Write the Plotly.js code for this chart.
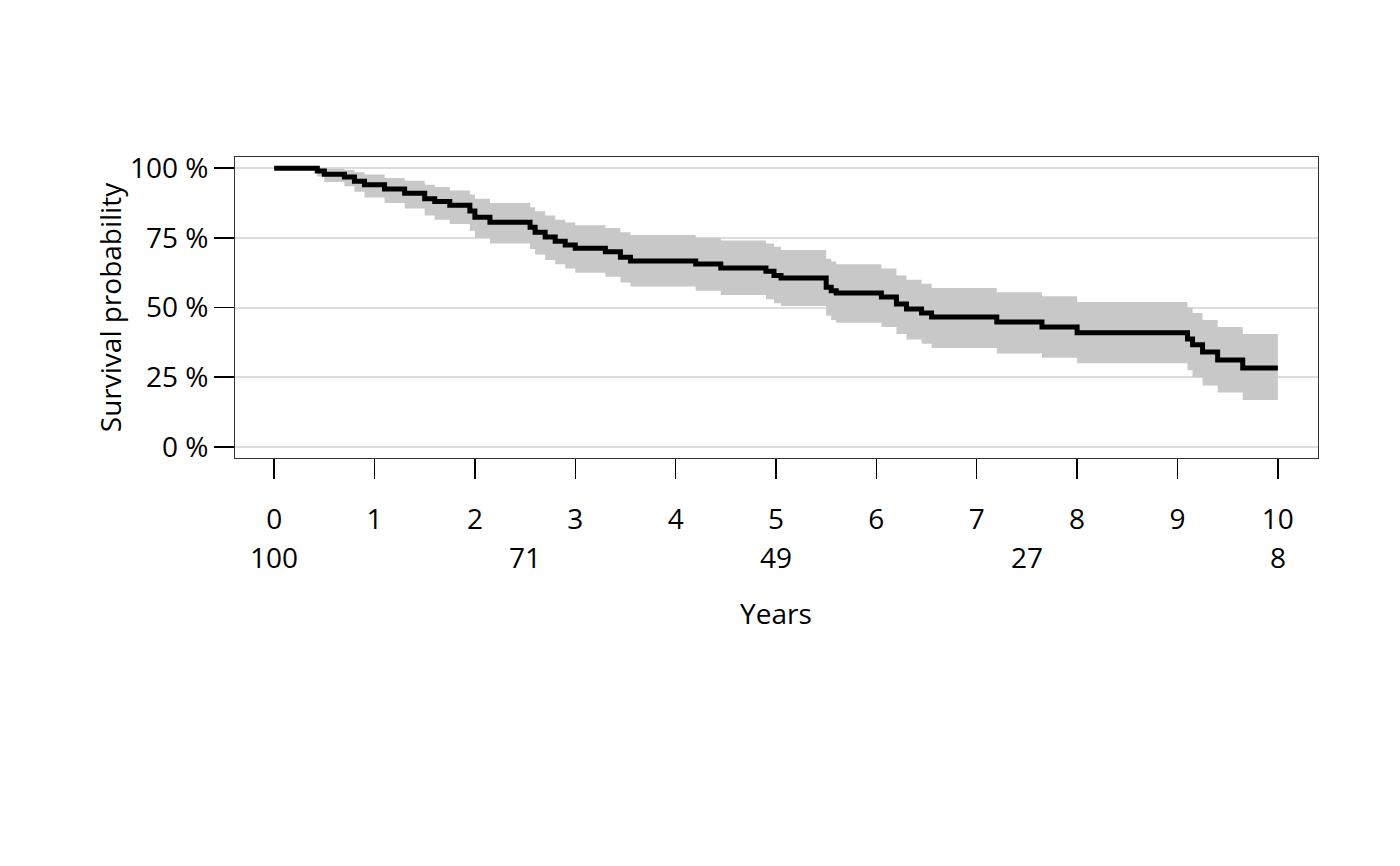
<!DOCTYPE html>
<html>
<head>
<meta charset="utf-8">
<script src="https://cdn.plot.ly/plotly-3.0.1.min.js"></script>
<style>body{margin:0;background:#fff}#plot{width:1400px;height:866px}</style>
</head>
<body>
<div id="plot"></div>
<script>
// step times (years), survival %, and confidence band
var times = [0, 0.43, 0.5, 0.7, 0.8, 0.9, 1.1, 1.3, 1.5, 1.6, 1.75, 1.95, 2.0, 2.15, 2.55, 2.6, 2.7, 2.8, 2.9, 3.0, 3.3, 3.45, 3.55, 4.2, 4.45, 4.9, 4.98, 5.05, 5.5, 5.55, 5.6, 6.05, 6.2, 6.3, 6.45, 6.55, 7.2, 7.65, 8.0, 9.1, 9.15, 9.25, 9.4, 9.65, 10];
var surv  = [100, 99, 97.8, 96.8, 95.3, 94, 92.5, 91, 89, 88, 86.7, 84.6, 82.4, 80.6, 78.8, 77, 75.3, 73.8, 72.4, 71.3, 70, 68, 66.7, 65.6, 64.2, 63, 61.5, 60.6, 57.3, 56, 55.2, 53.8, 51.3, 49.5, 48, 46.6, 44.8, 43, 40.9, 38.7, 36.6, 34, 31.2, 28.3, 28.3];
var lower = [100, 97, 95, 93.5, 91.5, 89.5, 87.5, 85.5, 83, 81.5, 80, 77.5, 75, 73, 71, 69, 67, 65.5, 64, 62.5, 61, 59, 57.5, 56, 54.5, 53, 51.5, 50.5, 47, 45.5, 44.5, 43, 40.5, 38.5, 37, 35.5, 33.5, 32, 30, 27.5, 25, 22, 19.5, 16.8, 16.8];
var upper = [100, 100, 99.8, 99.3, 98.5, 97.7, 96.5, 95.5, 94, 93.2, 92, 90.5, 89, 87.5, 86, 84.5, 83, 81.5, 80.5, 79.5, 78.5, 77, 76, 75, 74, 73, 71.8, 70.6, 67.5, 66.5, 65.5, 64, 61.5, 60, 58.5, 57, 55.5, 54, 52, 50, 48, 45.5, 43, 40.5, 40.5];
var riskTimes = [0, 2.5, 5, 7.5, 10];
var riskCounts = ['100', '71', '49', '27', '8'];
var xTicks = [0, 1, 2, 3, 4, 5, 6, 7, 8, 9, 10];
var yTicks = [0, 25, 50, 75, 100];
var yTickText = ['0 %', '25 %', '50 %', '75 %', '100 %'];

var font = {family: 'Open Sans, sans-serif', size: 28, color: '#000'};

var data = [
  {x: times, y: lower, type: 'scatter', mode: 'lines', line: {shape: 'hv', width: 0}, hoverinfo: 'skip', showlegend: false},
  {x: times, y: upper, type: 'scatter', mode: 'lines', line: {shape: 'hv', width: 0}, fill: 'tonexty', fillcolor: '#c8c8c8', showlegend: false},
  {x: times, y: surv, type: 'scatter', mode: 'lines', line: {shape: 'hv', width: 5, color: '#000'}, showlegend: false}
];

var annotations = riskTimes.map(function(t, i) {
  return {x: t, y: -0.33, xref: 'x', yref: 'paper', yanchor: 'middle', text: riskCounts[i], showarrow: false, font: font};
});
annotations.push({x: 5, y: -0.515, xref: 'x', yref: 'paper', yanchor: 'middle', text: 'Years', showarrow: false, font: font});

var layout = {
  width: 1400, height: 866,
  margin: {l: 235, r: 82, t: 157, b: 408},
  paper_bgcolor: '#fff', plot_bgcolor: '#fff',
  font: font,
  xaxis: {range: [-0.39, 10.4], tickvals: xTicks, ticks: 'outside', ticklen: 20, tickwidth: 1.5, tickcolor: '#000',
          ticklabelstandoff: 16, showgrid: false, zeroline: false, showline: true, linecolor: '#333', mirror: true},
  yaxis: {range: [-4, 104], tickvals: yTicks, ticktext: yTickText, ticks: 'outside', ticklen: 20, tickwidth: 1.5,
          tickcolor: '#000', showgrid: true, gridcolor: '#dddddd', gridwidth: 2, zeroline: false,
          showline: true, linecolor: '#333', mirror: true,
          title: {text: 'Survival probability', font: font, standoff: 0}},
  annotations: annotations
};

Plotly.newPlot('plot', data, layout, {staticPlot: true});
</script>
</body>
</html>
